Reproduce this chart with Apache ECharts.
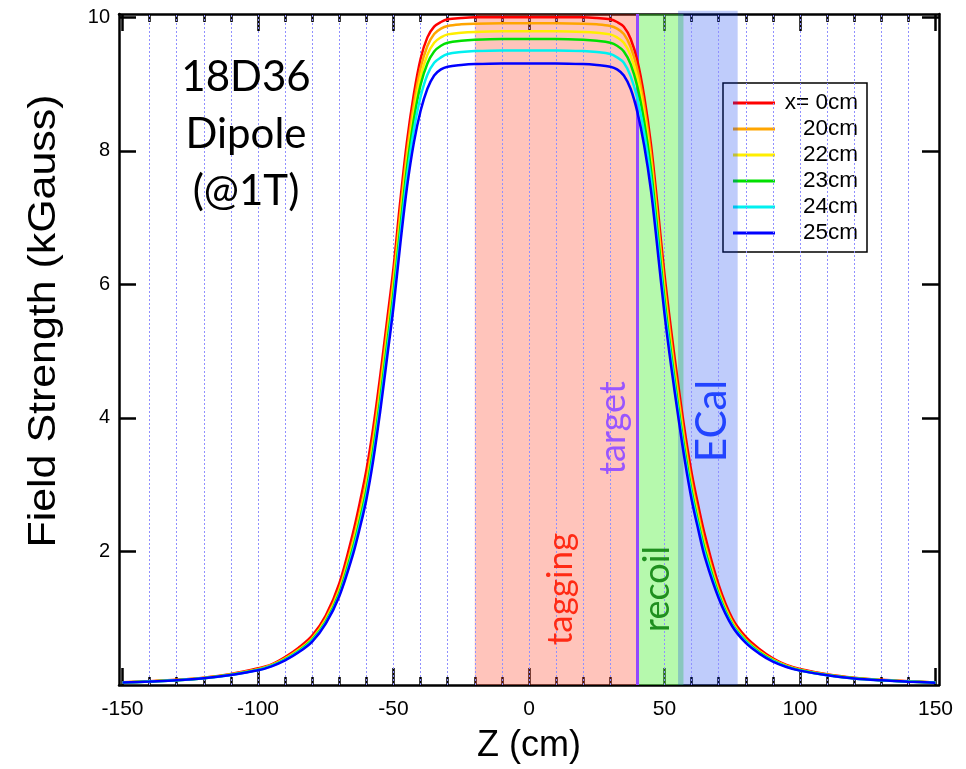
<!DOCTYPE html>
<html>
<head>
<meta charset="utf-8">
<script src="https://cdn.jsdelivr.net/npm/echarts@6/dist/echarts.min.js"></script>
<style>
  html, body { margin: 0; padding: 0; background: #fff; }
  #chart { width: 966px; height: 769px; }
</style>
</head>
<body>
<div id="chart"></div>
<script>
// Longitudinal position along the magnet axis (cm)
const zValues = [-150,-140,-130,-120,-110,-100,-95,-90,-85,-80,-75,-70,-65,-62.5,-60,-57.5,-55,-52.5,-50,-47.5,-45,-42.5,-40,-37.5,-35,-32.5,-30,-25,-20,-10,0,
                 10,20,25,30,32.5,35,37.5,40,42.5,45,47.5,50,52.5,55,57.5,60,62.5,65,70,75,80,85,90,95,100,110,120,130,140,150];

// Field strength (kGauss) at transverse offsets x = 0, 20, 22, 23, 24, 25 cm
const field_x0 = [0.04,0.057,0.078,0.11,0.165,0.25,0.31,0.42,0.56,0.74,1.04,1.52,2.27,2.72,3.22,3.85,4.6,5.42,6.25,7.25,8.15,8.85,9.38,9.7,9.86,9.93,9.97,9.99,10.0,10.0,10.0,
                  10.0,10.0,9.99,9.97,9.93,9.86,9.68,9.35,8.82,8.1,7.15,6.15,5.3,4.52,3.8,3.18,2.68,2.23,1.5,1.0,0.72,0.54,0.4,0.3,0.24,0.16,0.108,0.077,0.056,0.039];
const field_x20 = [0.039,0.055,0.075,0.106,0.158,0.235,0.3,0.4,0.53,0.7,0.99,1.44,2.15,2.58,3.06,3.68,4.43,5.25,6.08,7.07,7.98,8.7,9.24,9.57,9.75,9.83,9.87,9.895,9.905,9.91,9.91,
                   9.91,9.905,9.895,9.87,9.83,9.75,9.56,9.22,8.68,7.95,6.98,5.98,5.13,4.37,3.65,3.04,2.55,2.11,1.42,0.95,0.68,0.51,0.38,0.29,0.23,0.153,0.104,0.074,0.054,0.038];
const field_x22 = [0.038,0.054,0.074,0.104,0.156,0.232,0.295,0.39,0.52,0.69,0.97,1.41,2.1,2.52,2.99,3.6,4.34,5.15,5.98,6.96,7.87,8.58,9.11,9.44,9.62,9.7,9.745,9.77,9.782,9.79,9.79,
                   9.79,9.782,9.77,9.745,9.7,9.62,9.43,9.09,8.56,7.84,6.88,5.88,5.04,4.28,3.57,2.97,2.49,2.06,1.39,0.93,0.67,0.5,0.375,0.285,0.226,0.151,0.102,0.073,0.053,0.037];
const field_x23 = [0.037,0.053,0.072,0.102,0.153,0.228,0.29,0.385,0.51,0.68,0.95,1.38,2.05,2.46,2.92,3.52,4.25,5.06,5.88,6.85,7.76,8.47,8.99,9.31,9.49,9.575,9.62,9.65,9.665,9.675,9.675,
                   9.675,9.665,9.65,9.62,9.575,9.49,9.3,8.96,8.44,7.73,6.77,5.78,4.95,4.2,3.5,2.91,2.43,2.01,1.36,0.91,0.66,0.49,0.37,0.28,0.222,0.149,0.1,0.072,0.052,0.036];
const field_x24 = [0.036,0.052,0.071,0.101,0.151,0.225,0.285,0.378,0.5,0.665,0.935,1.35,2.0,2.4,2.85,3.44,4.16,4.96,5.77,6.73,7.62,8.31,8.81,9.14,9.32,9.4,9.45,9.48,9.495,9.505,9.505,
                   9.505,9.495,9.48,9.45,9.4,9.32,9.12,8.78,8.27,7.58,6.64,5.67,4.86,4.12,3.43,2.85,2.38,1.96,1.33,0.9,0.65,0.48,0.36,0.275,0.218,0.147,0.099,0.071,0.051,0.035];
const field_x25 = [0.036,0.052,0.07,0.1,0.15,0.22,0.28,0.37,0.49,0.65,0.92,1.33,1.95,2.34,2.78,3.36,4.07,4.86,5.66,6.6,7.46,8.12,8.6,8.93,9.13,9.22,9.26,9.285,9.3,9.31,9.31,
                   9.31,9.3,9.285,9.26,9.22,9.13,8.93,8.58,8.08,7.41,6.5,5.56,4.76,4.04,3.36,2.78,2.32,1.9,1.3,0.88,0.63,0.47,0.35,0.27,0.215,0.145,0.098,0.07,0.05,0.035];

const seriesNames = ['x= 0cm', '20cm', '22cm', '23cm', '24cm', '25cm'];
const seriesValues = [field_x0, field_x20, field_x22, field_x23, field_x24, field_x25];
const seriesColors = ['#ff0000', '#ffa500', '#ffee00', '#00e000', '#00f0f0', '#0000ff'];

// Detector regions along z (cm): tagging tracker, recoil tracker, ECal
const regionNames = ['tagging', 'recoil', 'ECal'];
const regionStart = [-20, 40, 55];
const regionEnd = [40, 57, 77];
const regionTop = [10.05, 10.05, 10.1];
const targetZ = 40;

// Axis ticks
const zMajorTicks = [-150, -100, -50, 0, 50, 100, 150];
const zMinorTicks = [-150,-140,-130,-120,-110,-100,-90,-80,-70,-60,-50,-40,-30,-20,-10,0,10,20,30,40,50,60,70,80,90,100,110,120,130,140,150];
const zGridLines = [-140,-130,-120,-110,-100,-90,-80,-70,-60,-50,-40,-30,-20,-10,0,10,20,30,40,50,60,70,80,90,100,110,120,130,140];
const fieldTicks = [2, 4, 6, 8, 10];

const Z_MIN = -151.3, Z_MAX = 151.3, B_MIN = 0, B_MAX = 10.05;
const AXIS_FONT = '"Liberation Sans", Arial, Helvetica, sans-serif';
const NOTE_FONT = 'Lato, "Open Sans", sans-serif';

const chart = echarts.init(document.getElementById('chart'), null, { renderer: 'canvas' });

function xAxisDef(position, tickValues, tickLen, showLine, showLabels) {
  return {
    type: 'value', position: position, min: Z_MIN, max: Z_MAX,
    axisLine: { show: showLine, onZero: false, lineStyle: { color: '#000', width: 2.5 } },
    axisTick: { show: true, inside: true, length: tickLen, customValues: tickValues, lineStyle: { color: '#000', width: 2.5 } },
    axisLabel: showLabels ? { show: true, customValues: zMajorTicks, fontSize: 21, color: '#000', margin: 14, fontFamily: AXIS_FONT } : { show: false },
    splitLine: { show: false }
  };
}

function bandSeries(idx, fill, z) {
  return {
    type: 'custom', name: regionNames[idx], z: z, silent: true, clip: false,
    xAxisIndex: 0, yAxisIndex: 0,
    data: [[regionStart[idx], regionEnd[idx], regionTop[idx]]],
    encode: { x: [0, 1], y: 2 },
    renderItem: function (params, api) {
      const p0 = api.coord([api.value(0), 0]);
      const p1 = api.coord([api.value(1), api.value(2)]);
      return { type: 'rect', shape: { x: p0[0], y: p1[1], width: p1[0] - p0[0], height: p0[1] - p1[1] }, style: { fill: fill } };
    }
  };
}

const curveSeries = seriesNames.map((name, i) => ({
  type: 'line', name: name, z: 5,
  xAxisIndex: 0, yAxisIndex: 0,
  data: zValues.map((z, k) => [z, seriesValues[i][k]]),
  symbol: 'none', showSymbol: false, smooth: 0.35,
  lineStyle: { color: seriesColors[i], width: 2.5 },
  itemStyle: { color: seriesColors[i] }
}));

const option = {
  animation: false,
  backgroundColor: '#fff',
  grid: { left: 119, right: 27, top: 14, bottom: 84 },
  xAxis: [
    Object.assign(xAxisDef('bottom', zMajorTicks, 17, true, true), {
      name: 'Z (cm)', nameLocation: 'middle', nameGap: 43,
      nameTextStyle: { fontSize: 36, color: '#000', fontFamily: AXIS_FONT }
    }),
    xAxisDef('bottom', zMinorTicks, 8, false, false),
    xAxisDef('top', zMajorTicks, 17, true, false),
    xAxisDef('top', zMinorTicks, 8, false, false)
  ],
  yAxis: [
    {
      type: 'value', position: 'left', min: B_MIN, max: B_MAX,
      axisLine: { show: true, onZero: false, lineStyle: { color: '#000', width: 2.5 } },
      axisTick: { show: true, inside: true, length: 17, customValues: fieldTicks, lineStyle: { color: '#000', width: 2.5 } },
      axisLabel: { show: true, customValues: fieldTicks, fontSize: 20, color: '#000', margin: 9, fontFamily: AXIS_FONT },
      splitLine: { show: false }
    },
    {
      type: 'value', position: 'right', min: B_MIN, max: B_MAX,
      axisLine: { show: true, onZero: false, lineStyle: { color: '#000', width: 2.5 } },
      axisTick: { show: true, inside: true, length: 17, customValues: fieldTicks, lineStyle: { color: '#000', width: 2.5 } },
      axisLabel: { show: false },
      splitLine: { show: false }
    }
  ],
  legend: {
    data: seriesNames,
    orient: 'vertical', left: 723, top: 83, z: 3,
    padding: [7, 9, 6, 10],
    icon: 'rect', itemWidth: 42, itemHeight: 3, itemGap: 0,
    backgroundColor: '#fff', borderColor: '#000', borderWidth: 1.5,
    formatter: name => '{n|' + name + '}',
    textStyle: {
      color: '#000', fontFamily: AXIS_FONT, fontSize: 22.5, lineHeight: 26,
      rich: { n: { width: 78, align: 'right', fontSize: 22.5, lineHeight: 26, color: '#000', fontFamily: AXIS_FONT } }
    }
  },
  series: [
    {
      // dashed vertical grid
      type: 'line', name: 'grid', z: 1, silent: true, data: [],
      markLine: {
        silent: true, symbol: 'none', animation: false,
        label: { show: false },
        lineStyle: { color: '#9090ff', width: 1, type: [2, 2] },
        data: zGridLines.map(v => ({ xAxis: v }))
      }
    },
    bandSeries(0, 'rgba(255,60,30,0.3)', 2),
    bandSeries(1, 'rgba(80,240,60,0.42)', 2),
    bandSeries(2, 'rgba(0,50,240,0.25)', 4),
    {
      // target plane
      type: 'line', name: 'target', z: 4, silent: true, data: [],
      markLine: {
        silent: true, symbol: 'none', animation: false,
        label: { show: false },
        lineStyle: { color: '#9448ff', width: 3, type: 'solid' },
        data: [{ xAxis: targetZ }]
      }
    }
  ].concat(curveSeries),
  graphic: [
    { type: 'text', z: 10, x: 44, y: 321, rotation: Math.PI / 2, scaleX: 1.1,
      style: { text: 'Field Strength (kGauss)', fontSize: 39, fill: '#000', fontFamily: AXIS_FONT, align: 'center', verticalAlign: 'middle' } },
    { type: 'text', z: 10, x: 246, y: 77, style: { text: '18D36', fontSize: 42, fill: '#000', fontFamily: NOTE_FONT, align: 'center', verticalAlign: 'middle' } },
    { type: 'text', z: 10, x: 246, y: 134, style: { text: 'Dipole', fontSize: 42, fill: '#000', fontFamily: NOTE_FONT, align: 'center', verticalAlign: 'middle' } },
    { type: 'text', z: 10, x: 246, y: 191, style: { text: '(@1T)', fontSize: 42, fill: '#000', fontFamily: NOTE_FONT, align: 'center', verticalAlign: 'middle' } },
    { type: 'text', z: 10, x: 561, y: 589, rotation: Math.PI / 2,
      style: { text: 'tagging', fontSize: 35, fill: '#ff2a14', fontFamily: NOTE_FONT, align: 'center', verticalAlign: 'middle' } },
    { type: 'text', z: 10, x: 613, y: 428, rotation: Math.PI / 2,
      style: { text: 'target', fontSize: 36, fill: '#9955ff', fontFamily: NOTE_FONT, align: 'center', verticalAlign: 'middle' } },
    { type: 'text', z: 10, x: 657, y: 589, rotation: Math.PI / 2,
      style: { text: 'recoil', fontSize: 36, fill: '#1f8f1f', fontFamily: NOTE_FONT, align: 'center', verticalAlign: 'middle' } },
    { type: 'text', z: 10, x: 712, y: 421, rotation: Math.PI / 2,
      style: { text: 'ECal', fontSize: 42, fill: '#2244ff', fontFamily: NOTE_FONT, align: 'center', verticalAlign: 'middle' } }
  ]
};

chart.setOption(option);
</script>
</body>
</html>
